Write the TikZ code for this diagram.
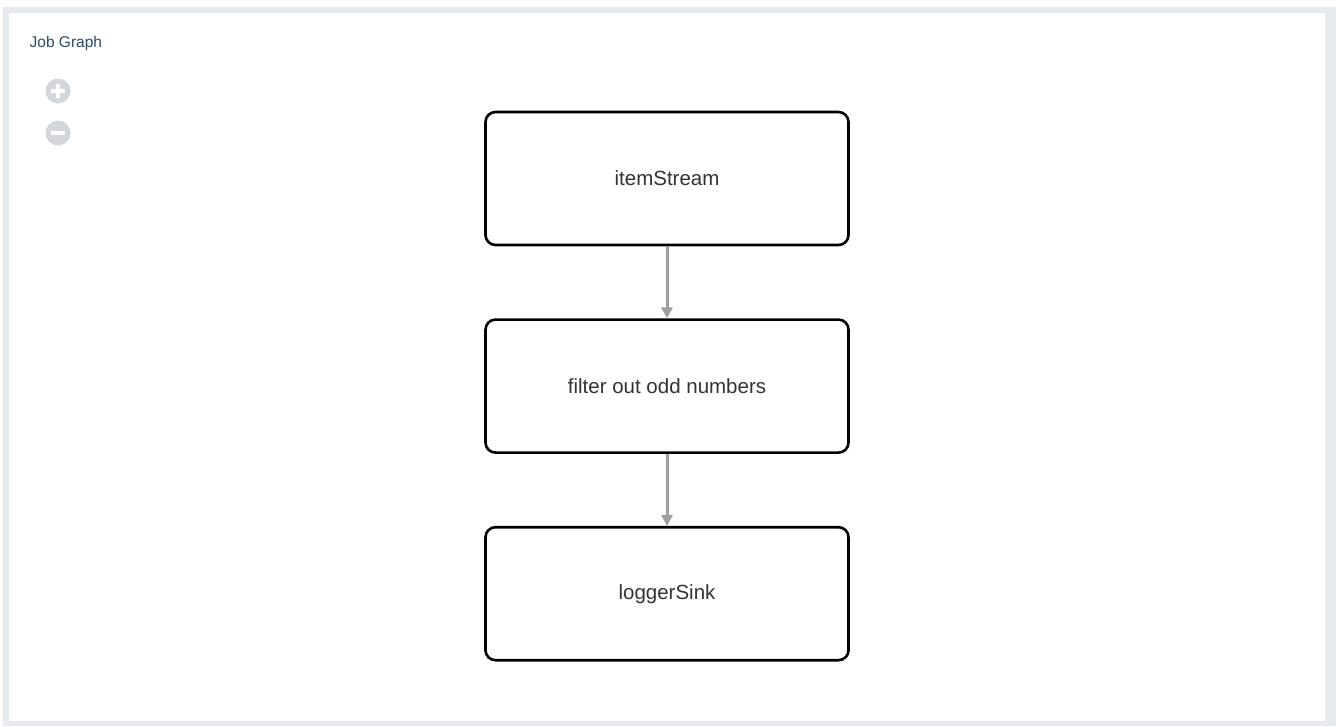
\documentclass[tikz,border=0pt]{standalone}
\usepackage{fontspec}
\setmainfont{Liberation Sans}
\usetikzlibrary{positioning, arrows.meta}

\definecolor{framegray}{HTML}{E6E9ED}
\definecolor{icongray}{HTML}{D3D7DC}
\definecolor{titleblue}{HTML}{2E4A64}
\definecolor{linkgray}{HTML}{9E9E9E}
\definecolor{textgray}{HTML}{333333}

\begin{document}
\begin{tikzpicture}[
    x=1pt, y=-1pt,
    node distance=72pt,
    block/.style={draw, line width=2.6pt, rounded corners=10pt, minimum width=363pt,
                  minimum height=133pt, align=center, text=textgray,
                  font=\fontsize{20.5}{24}\selectfont},
    arrow/.style={-{Triangle[width=11pt, length=11pt]}, line width=3pt, draw=linkgray}
]

% Frame
\fill[white] (0,0) rectangle (1336,726);
\fill[framegray] (3,7) rectangle (1336,726);
\fill[white] (9,13) rectangle (1325,721);
\useasboundingbox (0,0) rectangle (1336,726);

% Title and zoom buttons
\node[anchor=west, text=titleblue, font=\fontsize{15.5}{18}\selectfont, inner sep=0pt] (title) at (29.5,43) {Job Graph};
\fill[icongray] (58,91) circle (12.5);
\fill[white] (51,89.3) rectangle (65,92.7);
\fill[white] (56.3,84) rectangle (59.7,98);
\fill[icongray] (58,133) circle (12.5);
\fill[white] (51,131.3) rectangle (65,134.7);

% Nodes
\node[block] (source) at (667,178.5) {itemStream};

\node[block, below=of source] (filter) {filter out odd numbers};

\node[block, below=of filter] (sink) {loggerSink};

% Connections
\draw[arrow] (source) -- (filter);

\draw[arrow] (filter) -- (sink);

\end{tikzpicture}
\end{document}
